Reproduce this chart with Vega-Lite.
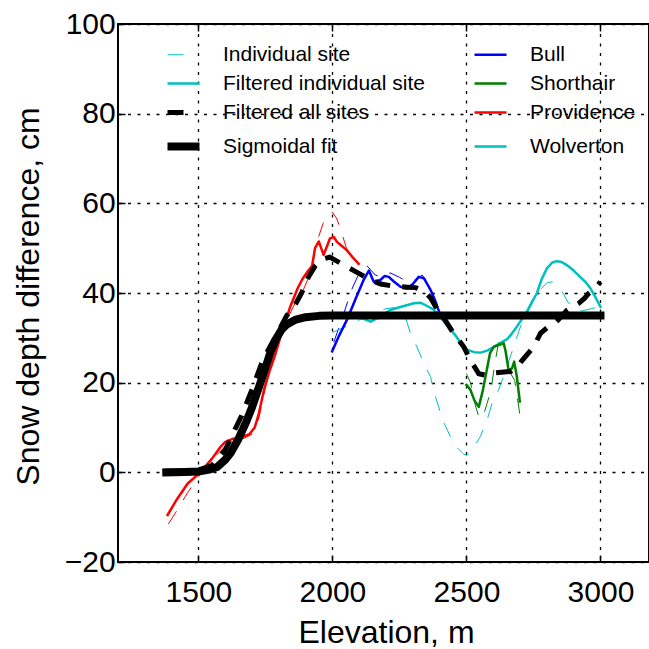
{
  "$schema": "https://vega.github.io/schema/vega-lite/v6.json",
  "autosize": "none",
  "width": 531,
  "height": 538,
  "padding": {"left": 118, "top": 24, "right": 0, "bottom": 87},
  "background": "white",
  "config": {
    "view": {"stroke": "black", "strokeWidth": 2},
    "font": "Liberation Sans"
  },
  "datasets": {
    "lines": [
      {"kind": "raw", "key": "Providence", "elev": 1388, "depth": -11.5},
      {"kind": "raw", "key": "Providence", "elev": 1420, "depth": -8.5},
      {"kind": "raw", "key": "Providence", "elev": 1460, "depth": -4.5},
      {"kind": "raw", "key": "Providence", "elev": 1500, "depth": -1},
      {"kind": "raw", "key": "Providence", "elev": 1540, "depth": 2},
      {"kind": "raw", "key": "Providence", "elev": 1570, "depth": 4},
      {"kind": "raw", "key": "Providence", "elev": 1600, "depth": 5.8},
      {"kind": "raw", "key": "Providence", "elev": 1640, "depth": 7.3},
      {"kind": "raw", "key": "Providence", "elev": 1670, "depth": 7.6},
      {"kind": "raw", "key": "Providence", "elev": 1700, "depth": 8.5},
      {"kind": "raw", "key": "Providence", "elev": 1725, "depth": 12},
      {"kind": "raw", "key": "Providence", "elev": 1750, "depth": 19},
      {"kind": "raw", "key": "Providence", "elev": 1775, "depth": 24},
      {"kind": "raw", "key": "Providence", "elev": 1800, "depth": 29},
      {"kind": "raw", "key": "Providence", "elev": 1830, "depth": 34},
      {"kind": "raw", "key": "Providence", "elev": 1867, "depth": 38.5},
      {"kind": "raw", "key": "Providence", "elev": 1890, "depth": 40.5},
      {"kind": "raw", "key": "Providence", "elev": 1915, "depth": 44},
      {"kind": "raw", "key": "Providence", "elev": 1940, "depth": 51},
      {"kind": "raw", "key": "Providence", "elev": 1965, "depth": 55.5},
      {"kind": "raw", "key": "Providence", "elev": 1985, "depth": 57.5},
      {"kind": "raw", "key": "Providence", "elev": 2000, "depth": 58},
      {"kind": "raw", "key": "Providence", "elev": 2017, "depth": 56.5},
      {"kind": "raw", "key": "Providence", "elev": 2035, "depth": 53.3},
      {"kind": "raw", "key": "Providence", "elev": 2055, "depth": 49.5},
      {"kind": "raw", "key": "Providence", "elev": 2075, "depth": 48},
      {"kind": "raw", "key": "Providence", "elev": 2098, "depth": 46.2},

      {"kind": "raw", "key": "Bull", "elev": 2005, "depth": 29},
      {"kind": "raw", "key": "Bull", "elev": 2040, "depth": 35},
      {"kind": "raw", "key": "Bull", "elev": 2070, "depth": 40.5},
      {"kind": "raw", "key": "Bull", "elev": 2100, "depth": 44.5},
      {"kind": "raw", "key": "Bull", "elev": 2130, "depth": 46},
      {"kind": "raw", "key": "Bull", "elev": 2160, "depth": 44},
      {"kind": "raw", "key": "Bull", "elev": 2185, "depth": 43.5},
      {"kind": "raw", "key": "Bull", "elev": 2215, "depth": 44.5},
      {"kind": "raw", "key": "Bull", "elev": 2250, "depth": 43.5},
      {"kind": "raw", "key": "Bull", "elev": 2280, "depth": 42.5},
      {"kind": "raw", "key": "Bull", "elev": 2310, "depth": 43},
      {"kind": "raw", "key": "Bull", "elev": 2335, "depth": 44},
      {"kind": "raw", "key": "Bull", "elev": 2360, "depth": 42},
      {"kind": "raw", "key": "Bull", "elev": 2385, "depth": 38.5},
      {"kind": "raw", "key": "Bull", "elev": 2400, "depth": 36},

      {"kind": "raw", "key": "Wolverton", "elev": 2000, "depth": 31.2},
      {"kind": "raw", "key": "Wolverton", "elev": 2050, "depth": 32.5},
      {"kind": "raw", "key": "Wolverton", "elev": 2100, "depth": 34},
      {"kind": "raw", "key": "Wolverton", "elev": 2150, "depth": 35.5},
      {"kind": "raw", "key": "Wolverton", "elev": 2200, "depth": 36.5},
      {"kind": "raw", "key": "Wolverton", "elev": 2240, "depth": 36.8},
      {"kind": "raw", "key": "Wolverton", "elev": 2270, "depth": 35},
      {"kind": "raw", "key": "Wolverton", "elev": 2291, "depth": 31},
      {"kind": "raw", "key": "Wolverton", "elev": 2315, "depth": 28},
      {"kind": "raw", "key": "Wolverton", "elev": 2340, "depth": 24.4},
      {"kind": "raw", "key": "Wolverton", "elev": 2366, "depth": 21.3},
      {"kind": "raw", "key": "Wolverton", "elev": 2380, "depth": 17.7},
      {"kind": "raw", "key": "Wolverton", "elev": 2403, "depth": 13.3},
      {"kind": "raw", "key": "Wolverton", "elev": 2420, "depth": 10.5},
      {"kind": "raw", "key": "Wolverton", "elev": 2440, "depth": 8},
      {"kind": "raw", "key": "Wolverton", "elev": 2465, "depth": 5.5},
      {"kind": "raw", "key": "Wolverton", "elev": 2490, "depth": 4},
      {"kind": "raw", "key": "Wolverton", "elev": 2502, "depth": 3.8},
      {"kind": "raw", "key": "Wolverton", "elev": 2520, "depth": 4.8},
      {"kind": "raw", "key": "Wolverton", "elev": 2552, "depth": 8},
      {"kind": "raw", "key": "Wolverton", "elev": 2577, "depth": 11.7},
      {"kind": "raw", "key": "Wolverton", "elev": 2596, "depth": 15.5},
      {"kind": "raw", "key": "Wolverton", "elev": 2620, "depth": 18.4},
      {"kind": "raw", "key": "Wolverton", "elev": 2645, "depth": 22.5},
      {"kind": "raw", "key": "Wolverton", "elev": 2676, "depth": 28},
      {"kind": "raw", "key": "Wolverton", "elev": 2695, "depth": 31.4},
      {"kind": "raw", "key": "Wolverton", "elev": 2720, "depth": 35.5},
      {"kind": "raw", "key": "Wolverton", "elev": 2750, "depth": 39},
      {"kind": "raw", "key": "Wolverton", "elev": 2780, "depth": 41},
      {"kind": "raw", "key": "Wolverton", "elev": 2800, "depth": 42.3},
      {"kind": "raw", "key": "Wolverton", "elev": 2820, "depth": 42.5},
      {"kind": "raw", "key": "Wolverton", "elev": 2840, "depth": 41.5},
      {"kind": "raw", "key": "Wolverton", "elev": 2860, "depth": 40},
      {"kind": "raw", "key": "Wolverton", "elev": 2878, "depth": 38},
      {"kind": "raw", "key": "Wolverton", "elev": 2900, "depth": 36.6},
      {"kind": "raw", "key": "Wolverton", "elev": 2930, "depth": 36},
      {"kind": "raw", "key": "Wolverton", "elev": 2960, "depth": 36.4},
      {"kind": "raw", "key": "Wolverton", "elev": 3000, "depth": 37},

      {"kind": "raw", "key": "Shorthair", "elev": 2500, "depth": 22},
      {"kind": "raw", "key": "Shorthair", "elev": 2515, "depth": 20},
      {"kind": "raw", "key": "Shorthair", "elev": 2533, "depth": 15},
      {"kind": "raw", "key": "Shorthair", "elev": 2548, "depth": 12},
      {"kind": "raw", "key": "Shorthair", "elev": 2562, "depth": 12.5},
      {"kind": "raw", "key": "Shorthair", "elev": 2577, "depth": 15.4},
      {"kind": "raw", "key": "Shorthair", "elev": 2592, "depth": 18.4},
      {"kind": "raw", "key": "Shorthair", "elev": 2605, "depth": 24},
      {"kind": "raw", "key": "Shorthair", "elev": 2620, "depth": 29},
      {"kind": "raw", "key": "Shorthair", "elev": 2635, "depth": 30},
      {"kind": "raw", "key": "Shorthair", "elev": 2650, "depth": 26},
      {"kind": "raw", "key": "Shorthair", "elev": 2665, "depth": 22},
      {"kind": "raw", "key": "Shorthair", "elev": 2680, "depth": 20.5},
      {"kind": "raw", "key": "Shorthair", "elev": 2699, "depth": 13},

      {"kind": "filt", "key": "Providence", "elev": 1385, "depth": -9.5},
      {"kind": "filt", "key": "Providence", "elev": 1420, "depth": -6},
      {"kind": "filt", "key": "Providence", "elev": 1460, "depth": -2.5},
      {"kind": "filt", "key": "Providence", "elev": 1507, "depth": 0},
      {"kind": "filt", "key": "Providence", "elev": 1550, "depth": 3},
      {"kind": "filt", "key": "Providence", "elev": 1580, "depth": 5.5},
      {"kind": "filt", "key": "Providence", "elev": 1600, "depth": 6.8},
      {"kind": "filt", "key": "Providence", "elev": 1630, "depth": 7.5},
      {"kind": "filt", "key": "Providence", "elev": 1660, "depth": 7.8},
      {"kind": "filt", "key": "Providence", "elev": 1690, "depth": 8.5},
      {"kind": "filt", "key": "Providence", "elev": 1710, "depth": 10},
      {"kind": "filt", "key": "Providence", "elev": 1725, "depth": 13},
      {"kind": "filt", "key": "Providence", "elev": 1745, "depth": 18.5},
      {"kind": "filt", "key": "Providence", "elev": 1765, "depth": 22.5},
      {"kind": "filt", "key": "Providence", "elev": 1785, "depth": 26},
      {"kind": "filt", "key": "Providence", "elev": 1810, "depth": 31},
      {"kind": "filt", "key": "Providence", "elev": 1843, "depth": 37},
      {"kind": "filt", "key": "Providence", "elev": 1870, "depth": 41},
      {"kind": "filt", "key": "Providence", "elev": 1887, "depth": 43},
      {"kind": "filt", "key": "Providence", "elev": 1910, "depth": 45},
      {"kind": "filt", "key": "Providence", "elev": 1924, "depth": 46},
      {"kind": "filt", "key": "Providence", "elev": 1935, "depth": 50},
      {"kind": "filt", "key": "Providence", "elev": 1949, "depth": 51.5},
      {"kind": "filt", "key": "Providence", "elev": 1967, "depth": 48.5},
      {"kind": "filt", "key": "Providence", "elev": 1980, "depth": 50.5},
      {"kind": "filt", "key": "Providence", "elev": 1991, "depth": 52.2},
      {"kind": "filt", "key": "Providence", "elev": 2005, "depth": 52.5},
      {"kind": "filt", "key": "Providence", "elev": 2017, "depth": 51.4},
      {"kind": "filt", "key": "Providence", "elev": 2035, "depth": 50.5},
      {"kind": "filt", "key": "Providence", "elev": 2054, "depth": 49.5},
      {"kind": "filt", "key": "Providence", "elev": 2075, "depth": 48},
      {"kind": "filt", "key": "Providence", "elev": 2098, "depth": 46.5},

      {"kind": "filt", "key": "Bull", "elev": 1999, "depth": 27},
      {"kind": "filt", "key": "Bull", "elev": 2025, "depth": 30.5},
      {"kind": "filt", "key": "Bull", "elev": 2054, "depth": 34},
      {"kind": "filt", "key": "Bull", "elev": 2085, "depth": 38.5},
      {"kind": "filt", "key": "Bull", "elev": 2117, "depth": 43},
      {"kind": "filt", "key": "Bull", "elev": 2136, "depth": 45},
      {"kind": "filt", "key": "Bull", "elev": 2154, "depth": 42.5},
      {"kind": "filt", "key": "Bull", "elev": 2179, "depth": 42.9},
      {"kind": "filt", "key": "Bull", "elev": 2195, "depth": 43.8},
      {"kind": "filt", "key": "Bull", "elev": 2210, "depth": 43.6},
      {"kind": "filt", "key": "Bull", "elev": 2230, "depth": 42.5},
      {"kind": "filt", "key": "Bull", "elev": 2254, "depth": 41.4},
      {"kind": "filt", "key": "Bull", "elev": 2279, "depth": 41},
      {"kind": "filt", "key": "Bull", "elev": 2300, "depth": 42},
      {"kind": "filt", "key": "Bull", "elev": 2322, "depth": 43.6},
      {"kind": "filt", "key": "Bull", "elev": 2341, "depth": 43.3},
      {"kind": "filt", "key": "Bull", "elev": 2366, "depth": 40.7},
      {"kind": "filt", "key": "Bull", "elev": 2397, "depth": 36},

      {"kind": "filt", "key": "Wolverton", "elev": 2050, "depth": 34.4},
      {"kind": "filt", "key": "Wolverton", "elev": 2100, "depth": 34.6},
      {"kind": "filt", "key": "Wolverton", "elev": 2142, "depth": 33.6},
      {"kind": "filt", "key": "Wolverton", "elev": 2180, "depth": 34.8},
      {"kind": "filt", "key": "Wolverton", "elev": 2216, "depth": 36.2},
      {"kind": "filt", "key": "Wolverton", "elev": 2260, "depth": 37},
      {"kind": "filt", "key": "Wolverton", "elev": 2304, "depth": 37.7},
      {"kind": "filt", "key": "Wolverton", "elev": 2330, "depth": 37.8},
      {"kind": "filt", "key": "Wolverton", "elev": 2353, "depth": 37.1},
      {"kind": "filt", "key": "Wolverton", "elev": 2375, "depth": 36.4},
      {"kind": "filt", "key": "Wolverton", "elev": 2390, "depth": 35.5},
      {"kind": "filt", "key": "Wolverton", "elev": 2420, "depth": 33.3},
      {"kind": "filt", "key": "Wolverton", "elev": 2453, "depth": 31},
      {"kind": "filt", "key": "Wolverton", "elev": 2480, "depth": 28.8},
      {"kind": "filt", "key": "Wolverton", "elev": 2503, "depth": 27.3},
      {"kind": "filt", "key": "Wolverton", "elev": 2530, "depth": 26.8},
      {"kind": "filt", "key": "Wolverton", "elev": 2552, "depth": 26.7},
      {"kind": "filt", "key": "Wolverton", "elev": 2580, "depth": 27.2},
      {"kind": "filt", "key": "Wolverton", "elev": 2602, "depth": 28},
      {"kind": "filt", "key": "Wolverton", "elev": 2630, "depth": 29},
      {"kind": "filt", "key": "Wolverton", "elev": 2652, "depth": 29.7},
      {"kind": "filt", "key": "Wolverton", "elev": 2670, "depth": 31},
      {"kind": "filt", "key": "Wolverton", "elev": 2688, "depth": 32.5},
      {"kind": "filt", "key": "Wolverton", "elev": 2705, "depth": 34},
      {"kind": "filt", "key": "Wolverton", "elev": 2726, "depth": 35.8},
      {"kind": "filt", "key": "Wolverton", "elev": 2745, "depth": 38},
      {"kind": "filt", "key": "Wolverton", "elev": 2763, "depth": 40},
      {"kind": "filt", "key": "Wolverton", "elev": 2780, "depth": 43},
      {"kind": "filt", "key": "Wolverton", "elev": 2800, "depth": 45.5},
      {"kind": "filt", "key": "Wolverton", "elev": 2820, "depth": 46.8},
      {"kind": "filt", "key": "Wolverton", "elev": 2838, "depth": 47.1},
      {"kind": "filt", "key": "Wolverton", "elev": 2855, "depth": 46.9},
      {"kind": "filt", "key": "Wolverton", "elev": 2875, "depth": 46.2},
      {"kind": "filt", "key": "Wolverton", "elev": 2900, "depth": 45},
      {"kind": "filt", "key": "Wolverton", "elev": 2924, "depth": 43.6},
      {"kind": "filt", "key": "Wolverton", "elev": 2945, "depth": 42.4},
      {"kind": "filt", "key": "Wolverton", "elev": 2963, "depth": 41},
      {"kind": "filt", "key": "Wolverton", "elev": 2980, "depth": 39.2},
      {"kind": "filt", "key": "Wolverton", "elev": 3000, "depth": 36.9},

      {"kind": "filt", "key": "Shorthair", "elev": 2500, "depth": 19.5},
      {"kind": "filt", "key": "Shorthair", "elev": 2515, "depth": 18.4},
      {"kind": "filt", "key": "Shorthair", "elev": 2530, "depth": 16},
      {"kind": "filt", "key": "Shorthair", "elev": 2546, "depth": 14.6},
      {"kind": "filt", "key": "Shorthair", "elev": 2560, "depth": 18},
      {"kind": "filt", "key": "Shorthair", "elev": 2571, "depth": 21.3},
      {"kind": "filt", "key": "Shorthair", "elev": 2588, "depth": 26.6},
      {"kind": "filt", "key": "Shorthair", "elev": 2602, "depth": 28},
      {"kind": "filt", "key": "Shorthair", "elev": 2620, "depth": 28.4},
      {"kind": "filt", "key": "Shorthair", "elev": 2639, "depth": 28.8},
      {"kind": "filt", "key": "Shorthair", "elev": 2646, "depth": 27},
      {"kind": "filt", "key": "Shorthair", "elev": 2651, "depth": 25.1},
      {"kind": "filt", "key": "Shorthair", "elev": 2657, "depth": 22.8},
      {"kind": "filt", "key": "Shorthair", "elev": 2670, "depth": 23.2},
      {"kind": "filt", "key": "Shorthair", "elev": 2678, "depth": 24.7},
      {"kind": "filt", "key": "Shorthair", "elev": 2688, "depth": 21.3},
      {"kind": "filt", "key": "Shorthair", "elev": 2699, "depth": 15.8},

      {"kind": "all", "key": "Filtered all sites", "elev": 1400, "depth": 0},
      {"kind": "all", "key": "Filtered all sites", "elev": 1500, "depth": 0.5},
      {"kind": "all", "key": "Filtered all sites", "elev": 1550, "depth": 1.5},
      {"kind": "all", "key": "Filtered all sites", "elev": 1600, "depth": 5},
      {"kind": "all", "key": "Filtered all sites", "elev": 1640, "depth": 10},
      {"kind": "all", "key": "Filtered all sites", "elev": 1660, "depth": 12.5},
      {"kind": "all", "key": "Filtered all sites", "elev": 1700, "depth": 18.5},
      {"kind": "all", "key": "Filtered all sites", "elev": 1740, "depth": 25},
      {"kind": "all", "key": "Filtered all sites", "elev": 1785, "depth": 30},
      {"kind": "all", "key": "Filtered all sites", "elev": 1830, "depth": 35},
      {"kind": "all", "key": "Filtered all sites", "elev": 1862, "depth": 37.5},
      {"kind": "all", "key": "Filtered all sites", "elev": 1885, "depth": 40},
      {"kind": "all", "key": "Filtered all sites", "elev": 1910, "depth": 43.5},
      {"kind": "all", "key": "Filtered all sites", "elev": 1935, "depth": 46},
      {"kind": "all", "key": "Filtered all sites", "elev": 1960, "depth": 47.5},
      {"kind": "all", "key": "Filtered all sites", "elev": 1990, "depth": 48},
      {"kind": "all", "key": "Filtered all sites", "elev": 2020, "depth": 47},
      {"kind": "all", "key": "Filtered all sites", "elev": 2050, "depth": 46},
      {"kind": "all", "key": "Filtered all sites", "elev": 2080, "depth": 45},
      {"kind": "all", "key": "Filtered all sites", "elev": 2110, "depth": 44},
      {"kind": "all", "key": "Filtered all sites", "elev": 2140, "depth": 43},
      {"kind": "all", "key": "Filtered all sites", "elev": 2180, "depth": 42},
      {"kind": "all", "key": "Filtered all sites", "elev": 2230, "depth": 41.5},
      {"kind": "all", "key": "Filtered all sites", "elev": 2280, "depth": 41.3},
      {"kind": "all", "key": "Filtered all sites", "elev": 2310, "depth": 41.2},
      {"kind": "all", "key": "Filtered all sites", "elev": 2340, "depth": 40.5},
      {"kind": "all", "key": "Filtered all sites", "elev": 2365, "depth": 39},
      {"kind": "all", "key": "Filtered all sites", "elev": 2390, "depth": 36.5},
      {"kind": "all", "key": "Filtered all sites", "elev": 2420, "depth": 34},
      {"kind": "all", "key": "Filtered all sites", "elev": 2452, "depth": 31},
      {"kind": "all", "key": "Filtered all sites", "elev": 2490, "depth": 28},
      {"kind": "all", "key": "Filtered all sites", "elev": 2515, "depth": 25},
      {"kind": "all", "key": "Filtered all sites", "elev": 2546, "depth": 22},
      {"kind": "all", "key": "Filtered all sites", "elev": 2575, "depth": 21.6},
      {"kind": "all", "key": "Filtered all sites", "elev": 2608, "depth": 22.2},
      {"kind": "all", "key": "Filtered all sites", "elev": 2640, "depth": 22.4},
      {"kind": "all", "key": "Filtered all sites", "elev": 2664, "depth": 22.5},
      {"kind": "all", "key": "Filtered all sites", "elev": 2690, "depth": 23.5},
      {"kind": "all", "key": "Filtered all sites", "elev": 2708, "depth": 25},
      {"kind": "all", "key": "Filtered all sites", "elev": 2751, "depth": 28},
      {"kind": "all", "key": "Filtered all sites", "elev": 2776, "depth": 31},
      {"kind": "all", "key": "Filtered all sites", "elev": 2800, "depth": 32.2},
      {"kind": "all", "key": "Filtered all sites", "elev": 2826, "depth": 33},
      {"kind": "all", "key": "Filtered all sites", "elev": 2850, "depth": 34.5},
      {"kind": "all", "key": "Filtered all sites", "elev": 2876, "depth": 36.2},
      {"kind": "all", "key": "Filtered all sites", "elev": 2919, "depth": 37.7},
      {"kind": "all", "key": "Filtered all sites", "elev": 2940, "depth": 38.8},
      {"kind": "all", "key": "Filtered all sites", "elev": 2956, "depth": 39.9},
      {"kind": "all", "key": "Filtered all sites", "elev": 2980, "depth": 41},
      {"kind": "all", "key": "Filtered all sites", "elev": 3000, "depth": 42.5},

      {"kind": "fit", "key": "Sigmoidal fit", "elev": 1380, "depth": 0},
      {"kind": "fit", "key": "Sigmoidal fit", "elev": 1450, "depth": 0.1},
      {"kind": "fit", "key": "Sigmoidal fit", "elev": 1500, "depth": 0.2},
      {"kind": "fit", "key": "Sigmoidal fit", "elev": 1540, "depth": 0.6},
      {"kind": "fit", "key": "Sigmoidal fit", "elev": 1570, "depth": 1.2},
      {"kind": "fit", "key": "Sigmoidal fit", "elev": 1600, "depth": 2.8},
      {"kind": "fit", "key": "Sigmoidal fit", "elev": 1620, "depth": 4.3},
      {"kind": "fit", "key": "Sigmoidal fit", "elev": 1650, "depth": 7.5},
      {"kind": "fit", "key": "Sigmoidal fit", "elev": 1680, "depth": 11.5},
      {"kind": "fit", "key": "Sigmoidal fit", "elev": 1700, "depth": 14.5},
      {"kind": "fit", "key": "Sigmoidal fit", "elev": 1720, "depth": 18},
      {"kind": "fit", "key": "Sigmoidal fit", "elev": 1740, "depth": 21.5},
      {"kind": "fit", "key": "Sigmoidal fit", "elev": 1770, "depth": 27},
      {"kind": "fit", "key": "Sigmoidal fit", "elev": 1790, "depth": 29.8},
      {"kind": "fit", "key": "Sigmoidal fit", "elev": 1810, "depth": 31.8},
      {"kind": "fit", "key": "Sigmoidal fit", "elev": 1830, "depth": 33},
      {"kind": "fit", "key": "Sigmoidal fit", "elev": 1860, "depth": 34},
      {"kind": "fit", "key": "Sigmoidal fit", "elev": 1900, "depth": 34.6},
      {"kind": "fit", "key": "Sigmoidal fit", "elev": 1950, "depth": 34.9},
      {"kind": "fit", "key": "Sigmoidal fit", "elev": 2000, "depth": 35},
      {"kind": "fit", "key": "Sigmoidal fit", "elev": 3000, "depth": 35}
    ]
  },
  "data": {"name": "lines"},
  "resolve": {"axis": {"x": "independent"}},
  "encoding": {
    "y": {"field": "depth", "type": "quantitative",
      "scale": {"domain": [-20, 100], "nice": false, "zero": false},
      "axis": {"values": [-20, 0, 20, 40, 60, 80, 100],
        "labelFontSize": 30, "labelColor": "black", "labelFont": "Liberation Sans",
        "labelPadding": 9.8,
        "tickSize": -7, "tickColor": "black", "tickWidth": 1.5,
        "domain": false,
        "grid": true, "gridColor": "black", "gridDash": [3, 6.5], "gridWidth": 1.3, "gridOpacity": 1,
        "title": "Snow depth difference, cm", "titleFontSize": 32, "titleFont": "Liberation Sans",
        "titleFontWeight": "normal", "titleColor": "black", "titleAngle": 270,
        "titleBaseline": "alphabetic", "titleX": -80, "titleY": 272, "titleAlign": "center"}},
    "color": {"field": "key", "type": "nominal",
      "scale": {
        "domain": ["Individual site", "Filtered individual site", "Filtered all sites", "Sigmoidal fit", "Bull", "Shorthair", "Providence", "Wolverton"],
        "range": ["#00bfbf", "#00bfbf", "#000000", "#000000", "#0000ff", "#008000", "#ff0000", "#00bfbf"]},
      "legend": {
        "orient": "none", "legendX": 55, "legendY": 20, "columns": 2, "title": null,
        "symbolType": "stroke", "symbolSize": 1024, "symbolStrokeWidth": 2.5,
        "labelFontSize": 21, "labelFont": "Liberation Sans", "labelColor": "black", "labelLimit": 400,
        "labelOffset": 29, "rowPadding": 7, "columnPadding": 44, "padding": 0,
        "symbolLimit": 0,
        "encode": {"symbols": {"update": {
          "strokeWidth": {"signal": "datum.value === 'Sigmoidal fit' ? 8 : datum.value === 'Filtered all sites' ? 5 : datum.value === 'Individual site' ? 1 : 2.5"},
          "strokeDash": {"signal": "datum.value === 'Individual site' ? [16, 16] : datum.value === 'Filtered all sites' ? [16, 16] : [1, 0]"},
          "opacity": {"value": 1}
        }}}
      }}
  },
  "layer": [
    {
      "transform": [{"filter": {"field": "kind", "equal": "raw"}}],
      "mark": {"type": "line", "strokeWidth": 1, "strokeDash": [15, 13], "strokeCap": "butt"},
      "encoding": {
        "x": {"field": "elev", "type": "quantitative",
          "scale": {"domain": [1200, 3181], "nice": false, "zero": false},
          "axis": {"orient": "bottom", "values": [1500, 2000, 2500, 3000], "format": "d",
            "labelFontSize": 30, "labelColor": "black", "labelFont": "Liberation Sans",
            "labelBaseline": "alphabetic", "labelPadding": 46.7,
            "tickSize": -7, "tickColor": "black", "tickWidth": 1.5,
            "domain": false,
            "grid": true, "gridColor": "black", "gridDash": [3, 6.5], "gridWidth": 1.3, "gridOpacity": 1,
            "title": "Elevation, m", "titleFontSize": 32, "titleFont": "Liberation Sans",
            "titleFontWeight": "normal", "titleColor": "black",
            "titleBaseline": "alphabetic", "titleX": 268, "titleY": 80, "titleAnchor": "middle", "titleAlign": "center"}}
      }
    },
    {
      "transform": [{"filter": {"field": "kind", "equal": "filt"}}],
      "mark": {"type": "line", "strokeWidth": 2.5, "strokeCap": "square", "strokeJoin": "round"},
      "encoding": {
        "x": {"field": "elev", "type": "quantitative", "axis": null}
      }
    },
    {
      "transform": [{"filter": {"field": "kind", "equal": "all"}}],
      "mark": {"type": "line", "strokeWidth": 5, "strokeDash": [16, 12], "strokeCap": "butt"},
      "encoding": {
        "x": {"field": "elev", "type": "quantitative", "axis": null}
      }
    },
    {
      "transform": [{"filter": {"field": "kind", "equal": "fit"}}],
      "mark": {"type": "line", "strokeWidth": 8, "strokeCap": "square", "strokeJoin": "round"},
      "encoding": {
        "x": {"field": "elev", "type": "quantitative",
          "axis": {"orient": "top", "values": [1500, 2000, 2500, 3000], "labels": false, "grid": false,
            "domain": false, "tickSize": -7, "tickColor": "black", "tickWidth": 1.5, "title": null}}
      }
    }
  ]
}
